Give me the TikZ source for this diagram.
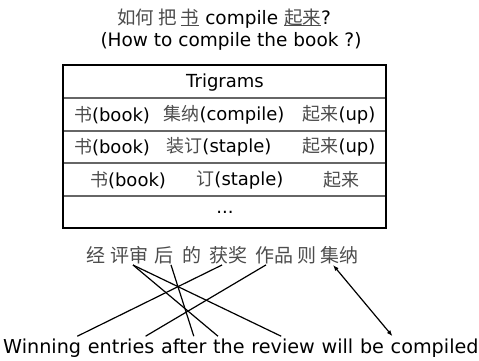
\documentclass[tikz,border=0pt]{standalone}
\usepackage{fontspec}
\setmainfont{DejaVu Sans}
\newfontfamily\cjk{Noto Sans CJK SC}
\usetikzlibrary{arrows.meta}
\definecolor{zhgray}{gray}{0.3}
\newcommand\zh[1]{{\cjk\color{zhgray}#1}}
\newcommand\ulzh[1]{\setbox0\hbox{#1}\rlap{\rule[-1.2pt]{\wd0}{0.7pt}}\box0}
\tikzset{
  ttl/.style={inner sep=0pt, font=\fontsize{18.5}{20}\selectfont},
  cell/.style={inner sep=0pt, font=\fontsize{18}{20}\selectfont},
  zhw/.style={inner sep=1pt, font=\fontsize{19}{21}\cjk, text=zhgray},
  enw/.style={inner sep=0pt, anchor=base west, font=\fontsize{19.2}{21}\selectfont},
  link/.style={line width=1.2pt},
  outer/.style={line width=1.6pt, draw=black},
  rowline/.style={line width=1.4pt, draw=black!60},
}
\begin{document}
\begin{tikzpicture}[x=1pt,y=-1pt]
\useasboundingbox (0,0) rectangle (479,361);
% title
\node[ttl] (t1) at (224,19) {\zh{如何 把 \ulzh{书}} compile \zh{\ulzh{起来}}?};
\node[ttl] (t2) at (231,41) {(How to compile the book ?)};
% table
\draw[rowline] (63,98) -- (386,98);
\draw[rowline] (63,131) -- (386,131);
\draw[rowline] (63,163) -- (386,163);
\draw[rowline] (63,196) -- (386,196);
\draw[outer] (63,65) rectangle (386,228);
\node[cell] (h) at (225,83) {Trigrams};
\node[cell] (r1a) at (112,115) {\zh{书}(book)};
\node[cell] (r1b) at (224,115) {\zh{集纳}(compile)};
\node[cell] (r1c) at (339,115) {\zh{起来}(up)};
\node[cell] (r2a) at (112,147) {\zh{书}(book)};
\node[cell] (r2b) at (219,147) {\zh{装订}(staple)};
\node[cell] (r2c) at (339,147) {\zh{起来}(up)};
\node[cell] (r3a) at (128,180) {\zh{书}(book)};
\node[cell] (r3b) at (240,180) {\zh{订}(staple)};
\node[cell] (r3c) at (341,180) {\zh{起来}};
\node[cell] (r4) at (225,212) {...};
% chinese sentence
\node[zhw] (jing) at (96,255) {经};
\node[zhw] (ps) at (129,255) {评审};
\node[zhw] (hou) at (164,255) {后};
\node[zhw] (de) at (192,255) {的};
\node[zhw] (hj) at (228,255) {获奖};
\node[zhw] (zp) at (274,255) {作品};
\node[zhw] (ze) at (307,255) {则};
\node[zhw] (jn) at (339,255) {集纳};
% english sentence
\node[enw] (e1) at (3,353) {Winning};
\node[enw] (e2) at ([xshift=6.3pt]e1.base east) {entries};
\node[enw] (e3) at ([xshift=6.3pt]e2.base east) {after};
\node[enw] (e4) at ([xshift=6.3pt]e3.base east) {the};
\node[enw] (e5) at ([xshift=6.3pt]e4.base east) {review};
\node[enw] (e6) at ([xshift=6.3pt]e5.base east) {will};
\node[enw] (e7) at ([xshift=6.3pt]e6.base east) {be};
\node[enw] (e8) at ([xshift=6.3pt]e7.base east) {compiled};
% links
\draw[link] ([xshift=-6pt]hj.south) -- ([xshift=-4pt,yshift=2pt]e1.north east);
\draw[link] ([xshift=-8pt]zp.south) -- ([xshift=-9pt,yshift=2pt]e2.north east);
\draw[link] ([xshift=4pt]ps.south) -- ([xshift=5pt,yshift=2pt]e4.north west);
\draw[link] ([xshift=4pt]ps.south) -- ([xshift=-2pt,yshift=2pt]e5.north);
\draw[link] ([xshift=7pt]hou.south) -- ([xshift=10pt,yshift=2pt]e3.north);
\draw[link, {Latex[length=6pt,width=4.5pt]}-{Latex[length=6pt,width=4.5pt]}] ([xshift=-6pt]jn.south) -- ([xshift=2pt,yshift=2pt]e8.north west);
\end{tikzpicture}
\end{document}
